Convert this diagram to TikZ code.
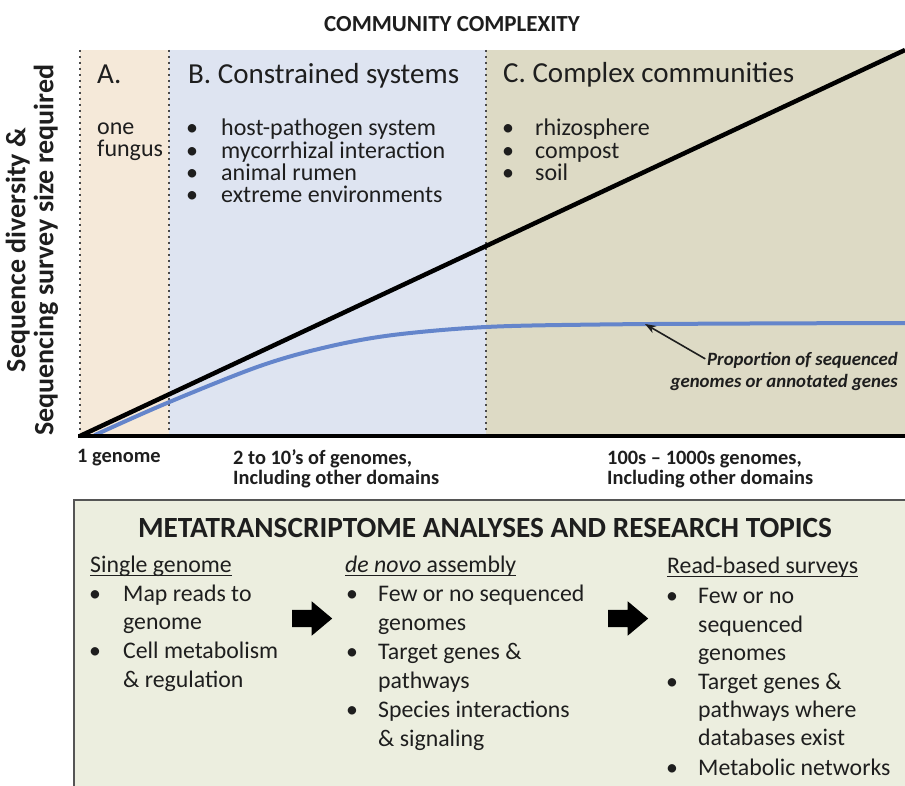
\documentclass[tikz,border=0pt]{standalone}
\usepackage{fontspec}
\setmainfont{Carlito}
\usetikzlibrary{arrows.meta,shapes.arrows}

\definecolor{zoneA}{HTML}{F5E9D9}
\definecolor{zoneB}{HTML}{DEE4F1}
\definecolor{zoneC}{HTML}{DDDAC5}
\definecolor{panel}{HTML}{ECEEDF}
\definecolor{curveblue}{HTML}{6485CB}
\definecolor{ink}{HTML}{1E1E1E}
\definecolor{dotgray}{HTML}{4A4A4A}
\definecolor{framegray}{HTML}{555555}

\newcommand\setfs[2]{\fontsize{#1}{#2}\selectfont}

\tikzset{
  txt/.style={inner sep=0pt, text=ink, anchor=base west},
  hdr/.style={txt, font=\setfs{29}{31}},
  topitem/.style={txt, font=\setfs{24}{26}},
  topbul/.style={inner sep=0pt, text=ink, anchor=base, font=\setfs{24}{26}},
  axislab/.style={txt, font=\bfseries\setfs{20.4}{22}},
  lowhead/.style={txt, font=\setfs{23.8}{28}},
  lowtext/.style={txt, font=\setfs{23.8}{28}},
  lowbul/.style={inner sep=0pt, text=ink, anchor=base, font=\setfs{23.8}{28}},
  zoneline/.style={dotgray, line width=2pt, dash pattern=on 2pt off 4pt},
  blockarrow/.style={single arrow, fill=black, draw=none, inner xsep=0pt,
    inner ysep=8.5pt, minimum height=40pt, single arrow head extend=8.5pt,
    single arrow tip angle=80, single arrow head indent=0pt},
  uline/.style={ink, line width=1.4pt},
}

\begin{document}
\begin{tikzpicture}[x=1pt,y=-1pt]
\useasboundingbox (0,0) rectangle (905,786);

% ---- shaded zones of the complexity chart
\fill[zoneA] (80,50) rectangle (169,436);
\fill[zoneB] (169,50) rectangle (486,436);
\fill[zoneC] (486,50) rectangle (905,436);
\draw[zoneline] (80,50) -- (80,436);
\draw[zoneline] (169,50) -- (169,436);
\draw[zoneline] (486,50) -- (486,436);

% ---- chart title and vertical axis label
\node[inner sep=0pt, text=ink, anchor=base, font=\bfseries\setfs{23}{26}] (title) at (452,32) {COMMUNITY COMPLEXITY};
\node[inner sep=0pt, text=ink, rotate=90, align=center, font=\bfseries\setfs{28}{28}] (ylab) at (32,250)
  {Sequence diversity \&\\Sequencing survey size required};

% ---- curves: required survey size (black) and sequenced proportion (blue)
\coordinate (origin) at (80,436);
\coordinate (topright) at (905,50);
\draw[curveblue, line width=4pt, line cap=round]
  plot[smooth, tension=0.55] coordinates {(95,435) (167,403) (260,366) (327,347)
   (393,335) (486,327) (600,324.5) (750,323.5) (905,323)};
\draw[black, line width=4.5pt] (origin) -- (topright);
\draw[black, line width=4.5pt] (78,436) -- (905,436);

% ---- zone A
\node[hdr] (hdA) at (97,84) {A.};
\node[topitem] (oneA) at (97,135) {one};
\node[topitem] (fungA) at (97,157) {fungus};

% ---- zone B
\node[hdr] (hdB) at (188,84) {B. Constrained systems};
\foreach \t [count=\i, evaluate=\i as \yy using 136+(\i-1)*22.3] in
  {host-pathogen system, mycorrhizal interaction, animal rumen, extreme environments} {
  \node[topbul] (bB\i) at (192,\yy) {\textbullet};
  \node[topitem] (tB\i) at (221,\yy) {\t};
}

% ---- zone C
\node[hdr] (hdC) at (503,83) {C. Complex communities};
\foreach \t [count=\i, evaluate=\i as \yy using 136+(\i-1)*22.3] in
  {rhizosphere, compost, soil} {
  \node[topbul] (bC\i) at (508,\yy) {\textbullet};
  \node[topitem] (tC\i) at (535,\yy) {\t};
}

% ---- annotation of the blue curve
\coordinate (tip) at (645,324);
\node[inner sep=0pt, text=ink, anchor=base east, font=\bfseries\itshape\setfs{18.8}{22}] (prop1) at (898,365) {Proportion of sequenced};
\node[inner sep=0pt, text=ink, anchor=base east, font=\bfseries\itshape\setfs{18.8}{22}] (prop2) at (898,387) {genomes or annotated genes};
\draw[ink, line width=1.6pt, -{Stealth[length=11pt,width=8pt]}, shorten <=2pt] (prop1.west) -- (tip);

% ---- labels under the horizontal axis
\node[axislab] (g1) at (77,462) {1 genome};
\node[axislab] (g2a) at (233,464) {2 to 10’s of genomes,};
\node[axislab] (g2b) at (233,484) {Including other domains};
\node[axislab] (g3a) at (607,464) {100s – 1000s genomes,};
\node[axislab] (g3b) at (607,484) {Including other domains};

% ---- lower panel
\draw[framegray, line width=2pt, fill=panel] (74,500) rectangle (920,800);
\node[inner sep=0pt, text=ink, anchor=base, font=\bfseries\setfs{29.3}{31}] (ptitle) at (485,537)
  {METATRANSCRIPTOME ANALYSES AND RESEARCH TOPICS};

% column 1: single genome
\node[lowhead] (h1) at (90,572) {Single genome};
\draw[uline] ([yshift=-3.5pt]h1.base west) -- ([yshift=-3.5pt]h1.base east);
\foreach \yy/\t [count=\i] in {601/Map reads to, 629/genome, 658/Cell metabolism, 687/\& regulation}
  \node[lowtext] (s\i) at (123,\yy) {\t};
\foreach \yy [count=\i] in {601,658}
  \node[lowbul] (sb\i) at (95,\yy) {\textbullet};

% column 2: de novo assembly
\node[lowhead] (h2) at (345,572) {\textit{de novo} assembly};
\draw[uline] ([yshift=-3.5pt]h2.base west) -- ([yshift=-3.5pt]h2.base east);
\foreach \yy/\t [count=\i] in {601/Few or no sequenced, 630/genomes, 659/Target genes \&,
    688/pathways, 717/Species interactions, 746/\& signaling}
  \node[lowtext] (d\i) at (378,\yy) {\t};
\foreach \yy [count=\i] in {601,659,717}
  \node[lowbul] (db\i) at (352,\yy) {\textbullet};

% column 3: read-based surveys
\node[lowhead] (h3) at (667,573) {Read-based surveys};
\draw[uline] ([yshift=-3.5pt]h3.base west) -- ([yshift=-3.5pt]h3.base east);
\foreach \yy/\t [count=\i] in {603/Few or no, 632/sequenced, 660/genomes, 689/Target genes \&,
    717/pathways where, 745/databases exist, 775/Metabolic networks}
  \node[lowtext] (r\i) at (698,\yy) {\t};
\foreach \yy [count=\i] in {603,689,775}
  \node[lowbul] (rb\i) at (672,\yy) {\textbullet};

% block arrows between the columns
\node[blockarrow] (arr1) at (307,618.5) {};
\node[blockarrow] (arr2) at (623,618.5) {};
\end{tikzpicture}
\end{document}
